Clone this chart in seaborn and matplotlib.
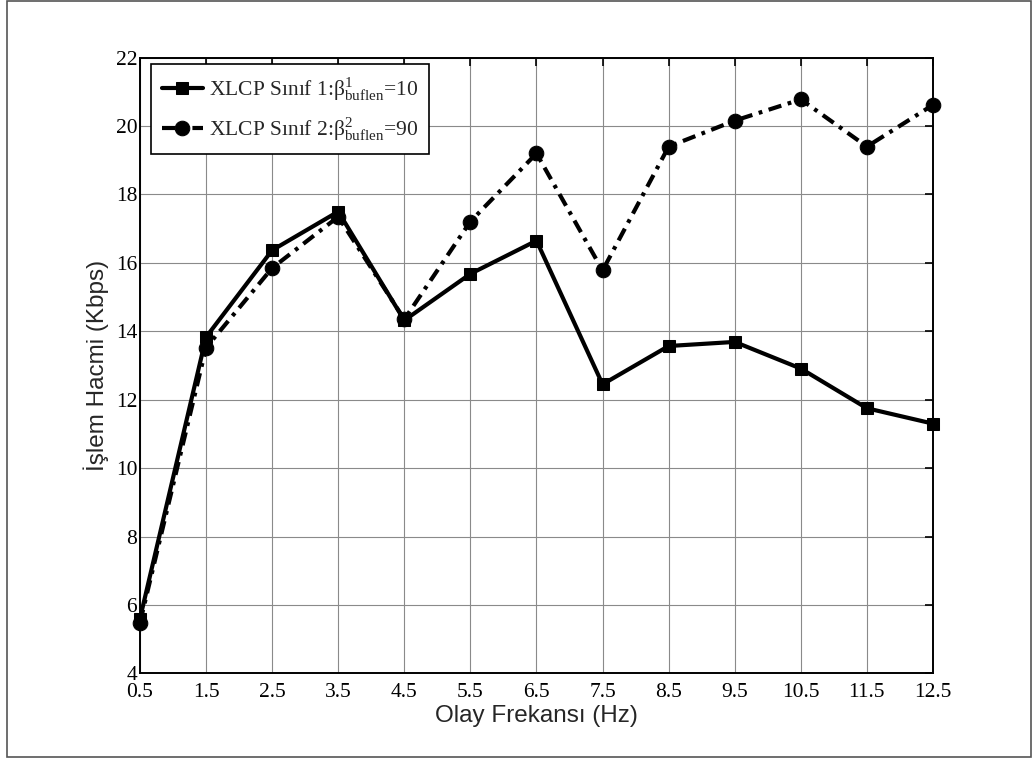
import matplotlib
matplotlib.use("Agg")
import matplotlib.pyplot as plt
import seaborn as sns
import pandas as pd
from matplotlib.patches import Rectangle

freq = [0.5, 1.5, 2.5, 3.5, 4.5, 5.5, 6.5, 7.5, 8.5, 9.5, 10.5, 11.5, 12.5]
sinif1 = [5.6, 13.83, 16.37, 17.5, 14.32, 15.68, 16.65, 12.45, 13.57, 13.69, 12.91, 11.75, 11.3]
sinif2 = [5.48, 13.52, 15.85, 17.35, 14.35, 17.21, 19.2, 15.78, 19.4, 20.16, 20.78, 19.4, 20.62]
label1 = r"XLCP Sınıf 1:$\mathregular{\beta^{1}_{buflen}}$=10"
label2 = r"XLCP Sınıf 2:$\mathregular{\beta^{2}_{buflen}}$=90"
xticks = [0.5, 1.5, 2.5, 3.5, 4.5, 5.5, 6.5, 7.5, 8.5, 9.5, 10.5, 11.5, 12.5]
yticks = [4, 6, 8, 10, 12, 14, 16, 18, 20, 22]

sns.set_style("white")
plt.rcParams['font.family'] = ['Liberation Serif', 'DejaVu Serif']
plt.rcParams['mathtext.fontset'] = 'custom'
plt.rcParams['mathtext.rm'] = 'Liberation Serif'
plt.rcParams['mathtext.it'] = 'Liberation Serif:italic'

df = pd.DataFrame({
    'x': freq * 2,
    'y': sinif1 + sinif2,
    'series': [label1] * len(freq) + [label2] * len(freq),
})

fig = plt.figure(figsize=(10.33, 7.58), dpi=100)
ax = fig.add_axes([0.1355, 0.1117, 0.7677, 0.8122])

sns.lineplot(data=df, x='x', y='y', hue='series', style='series',
             palette=['black', 'black'],
             markers={label1: 's', label2: 'o'},
             dashes={label1: '', label2: (3.2, 1.6, 0.9, 1.6)},
             linewidth=3, markersize=9, markeredgecolor='black',
             ax=ax)
for ln in ax.get_lines():
    ln.set_clip_on(False)
    ln.set_zorder(5)
    if ln.get_marker() == 'o':
        ln.set_markersize(10.5)
    elif ln.get_marker() == 's':
        ln.set_markersize(8)

ax.set_xlim(0.5, 12.5)
ax.set_ylim(4, 22)
ax.set_xticks(xticks)
ax.set_xticklabels([str(t) for t in xticks])
ax.set_yticks(yticks)
ax.set_yticklabels([str(t) for t in yticks])
ax.grid(True, color='#8a8a8a', linewidth=0.8)
ax.tick_params(direction='in', length=6, width=1.2, top=True, right=True,
               labelsize=15.5, colors='black')
ax.tick_params(axis='x', pad=7)
ax.tick_params(axis='y', pad=2)
for s in ax.spines.values():
    s.set_color('black')
    s.set_linewidth(1.4)
    s.set_visible(True)

ax.set_xlabel('Olay Frekansı (Hz)', family=['Liberation Sans', 'DejaVu Sans'], fontsize=17.5, labelpad=2)
ax.set_ylabel('İşlem Hacmi (Kbps)', family=['Liberation Sans', 'DejaVu Sans'], fontsize=17.5, labelpad=5)

leg = ax.legend(loc='upper left', bbox_to_anchor=(0.014, 0.989), fontsize=15.5,
                frameon=True, fancybox=False, framealpha=1, edgecolor='black',
                handlelength=1.9, handletextpad=0.3, borderpad=0.5, labelspacing=0.6,
                borderaxespad=0)
leg.get_frame().set_linewidth(1.2)
leg.set_zorder(10)

fig.patches.append(Rectangle((7 / 1033, 1 / 758), 1024 / 1033, 756 / 758,
                             transform=fig.transFigure, fill=False,
                             edgecolor='#555555', linewidth=1.2))

fig.savefig('out.png', dpi=100)
